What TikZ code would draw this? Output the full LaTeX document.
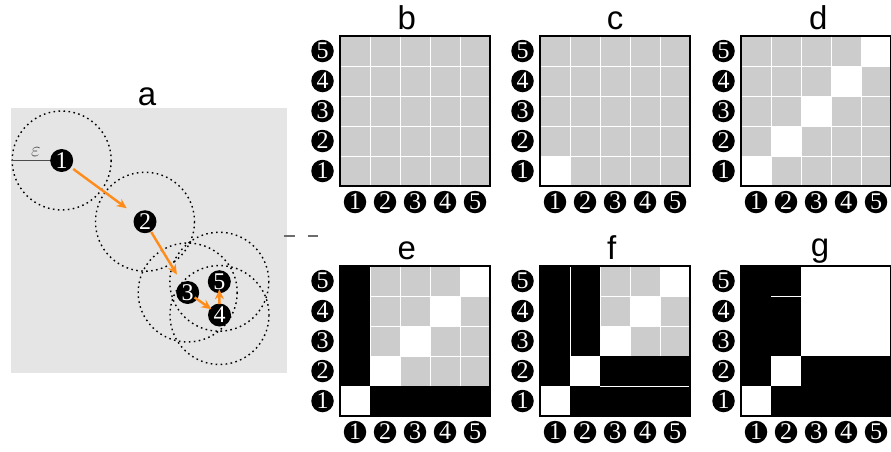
\documentclass[tikz,border=0pt]{standalone}
\usepackage{fontspec}
\setmainfont{Liberation Serif}
\newfontfamily\titlefont{Liberation Sans}
\usetikzlibrary{arrows.meta}
\definecolor{bgA}{gray}{0.9}
\definecolor{cellg}{gray}{0.8}
\definecolor{arr}{RGB}{255,140,26}
\definecolor{epsc}{gray}{0.3}
\newcommand\mxgrid[2]{%
  \foreach \cc in {0,...,4}{\foreach \rr in {0,...,4}{%
    \fill[cellg] ({#1+\cc*30+0.5},{#2+\rr*30+0.5}) rectangle ++(29,29);}}}
\newcommand\wcell[4]{\fill[white] ({#1+#3*30-30},{#2+150-#4*30}) rectangle ++(30,30);}
\newcommand\mxborder[2]{\draw[line width=2.5pt] (#1,#2) rectangle ++(150,150);}
\newcommand\mxlabels[3]{%
  \foreach \k in {1,...,5}{%
    \node[lab] (#3r\k) at ({#1-17.5},{#2+165-\k*30}) {\k};
    \node[lab] (#3c\k) at ({#1+\k*30-15},{#2+166}) {\k};}}
\begin{document}
\begin{tikzpicture}[x=1pt,y=-1pt,
  lab/.style={circle,fill=black,text=white,inner sep=0pt,minimum size=22.5pt,
    font=\fontsize{24}{24}\selectfont},
  ptnode/.style={circle,fill=black,text=white,inner sep=0pt,minimum size=23pt,
    font=\fontsize{24}{24}\selectfont},
  ttl/.style={anchor=base,inner sep=0pt,font=\titlefont\fontsize{33}{33}\selectfont},
  epsring/.style={line width=1.4pt,dash pattern=on 1.6pt off 3.4pt},
  oarr/.style={draw=arr,line width=2.4pt,-{Stealth[length=10pt,width=9pt]}},
  stub/.style={draw=gray!85!black,line width=1.3pt}]
\clip (0,0) rectangle (891,451);
\useasboundingbox (0,0) rectangle (891,451);
\fill[white] (0,0) rectangle (891,451);

% ---------- panel a ----------
\node[ttl] (ta) at (147,105) {a};
\fill[bgA] (11,108) rectangle (287,373);
\coordinate (p1) at (61.7,160.5);
\coordinate (p2) at (145,221.7);
\coordinate (p3) at (187.7,292.5);
\coordinate (p4) at (219.5,315);
\coordinate (p5) at (219.3,281.7);
\foreach \p in {p1,p2,p3,p4,p5}{\draw[epsring] (\p) circle[radius=49.5];}
\coordinate (epsL) at (12.2,160.5);
\draw[epsc,line width=1pt] (epsL) -- (p1);
\node[text=epsc,font=\fontsize{20}{20}\selectfont] (eps) at (36,152) {$\varepsilon$};
\node[ptnode] (n1) at (p1) {1};
\node[ptnode] (n2) at (p2) {2};
\node[ptnode] (n3) at (p3) {3};
\node[ptnode] (n4) at (p4) {4};
\node[ptnode] (n5) at (p5) {5};
\draw[oarr,shorten <=14.3pt,shorten >=22.7pt] (n1.center) -- (n2.center);
\draw[oarr,shorten <=12pt,shorten >=20.9pt] (n2.center) -- (n3.center);
\draw[oarr,shorten <=8.5pt,shorten >=10pt] (n3.center) -- (n4.center);
\draw[oarr,shorten <=11pt,shorten >=7.6pt] (n4.center) -- (n5.center);
\coordinate (s1a) at (284.3,236); \coordinate (s1b) at (295,236);
\coordinate (s2a) at (307.7,236); \coordinate (s2b) at (318.3,236);
\draw[stub] (s1a) -- (s1b);
\draw[stub] (s2a) -- (s2b);

% ---------- panel b ----------
\node[ttl] (tb) at (406.7,29.3) {b};
\mxgrid{340}{36}
\mxborder{340}{36}
\mxlabels{340}{36}{b}

% ---------- panel c ----------
\node[ttl] (tc) at (615,29.3) {c};
\mxgrid{540}{36}
\wcell{540}{36}{1}{1}
\mxborder{540}{36}
\mxlabels{540}{36}{c}

% ---------- panel d ----------
\node[ttl] (td) at (818.3,29.3) {d};
\mxgrid{741}{36}
\foreach \k in {1,...,5}{\wcell{741}{36}{\k}{\k}}
\mxborder{741}{36}
\mxlabels{741}{36}{d}

% ---------- panel e ----------
\node[ttl] (te) at (406.7,259.3) {e};
\mxgrid{340}{266}
\foreach \k in {1,...,5}{\wcell{340}{266}{\k}{\k}}
\fill[black] (340,266) rectangle (370,386);
\fill[black] (370,386) rectangle (490,416);
\mxborder{340}{266}
\mxlabels{340}{266}{e}

% ---------- panel f ----------
\node[ttl] (tf) at (611.7,259.3) {f};
\mxgrid{540}{266}
\foreach \k in {1,...,5}{\wcell{540}{266}{\k}{\k}}
\fill[black] (540,266) rectangle (570,386);
\fill[black] (570,386) rectangle (690,416);
\fill[black] (570,266) rectangle (600,356);
\fill[black] (600,356) rectangle (690,386);
\draw[white,line width=1pt] (570,267) -- (570,356);
\draw[white,line width=1pt] (600,386) -- (689,386);
\mxborder{540}{266}
\mxlabels{540}{266}{f}

% ---------- panel g ----------
\node[ttl] (tg) at (820,256.7) {g};
\fill[white] (741,266) rectangle (891,416);
\fill[black] (741,266) rectangle (771,386);
\fill[black] (771,386) rectangle (891,416);
\fill[black] (771,266) rectangle (801,356);
\fill[black] (801,356) rectangle (891,386);
\draw[white,line width=1pt] (771,296) -- (801,296);
\mxborder{741}{266}
\mxlabels{741}{266}{g}
\end{tikzpicture}
\end{document}
